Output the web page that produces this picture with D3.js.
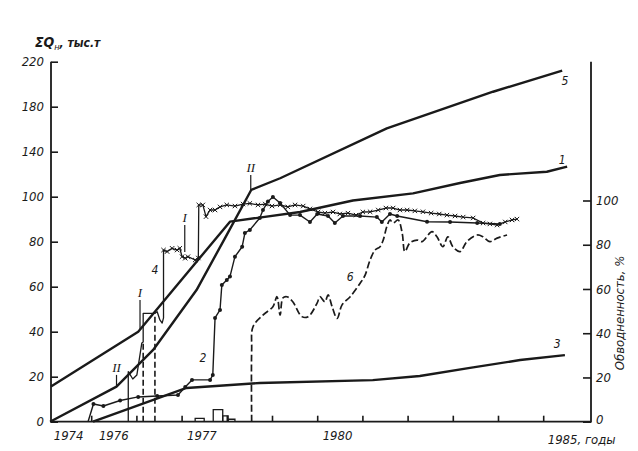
<!DOCTYPE html>
<html><head><meta charset="utf-8">
<script src="https://cdn.jsdelivr.net/npm/d3@7"></script>
<style>
html,body{margin:0;padding:0;background:#fff;}
svg{display:block;}
text{fill:#1a1a1a;}
.tick text{font-family:"Liberation Sans Narrow","DejaVu Sans Condensed","DejaVu Sans",sans-serif;font-style:italic;font-size:13px;}
</style></head>
<body>
<svg id="chart" width="638" height="451"></svg>
<script>
// ---- data (x in interval units of the time axis, one unit per tick interval) ----
const leftTicks = [0,20,40,60,80,100,140,180,220];          // ΣQн, thous. t (axis drawn with uneven labels)
const rightTicks = [0,20,40,60,80,100];                      // water cut, %
const xTicks = [1,2,3,4,5,6,7,8,9,10,11];
const xLabels = ["1974","1976","1977","1980","1985, годы"];
const xLabelPos = [0.5,1.5,3.45,6.45,11.1];

// curves on left axis (ΣQн)
const curve1 = [[0.11,15.6],[2.04,40.0],[4.07,88.9],[5.62,93.2],[6.79,98.3],[8.12,103.0],[9.16,112.2],[10.04,119.3],[11.08,122.2],[11.53,126.7]];
const curve3 = [[1.04,0],[3.11,15.0],[4.73,17.2],[7.23,18.5],[8.27,20.3],[9.38,23.9],[10.49,27.4],[11.48,29.6]];
const curve5 = [[0.09,0],[1.56,15.6],[2.37,31.9],[2.85,45.2],[3.33,58.5],[3.96,81.6],[4.54,106.0],[5.18,116.4],[7.54,160.8],[9.89,193.3],[11.42,212.0]];

// curves on right axis (обводненность, %)
const curve2 = [[0.93,0],[1.05,8.0],[1.27,7.1],[1.64,9.6],[2.04,11.2],[2.46,11.6],[2.92,12.1],[3.08,15.7],[3.23,18.9],[3.63,18.9],[3.69,21.1],[3.74,46.9],[3.85,50.5],[3.89,61.8],[4.00,64.1],[4.07,65.6],[4.18,74.6],[4.34,79.1],[4.40,85.3],[4.51,86.7],[4.73,92.1],[4.80,95.7],[4.91,99.5],[5.02,101.6],[5.18,98.9],[5.40,93.4],[5.62,93.4],[5.84,90.3],[6.00,93.9],[6.24,93.0],[6.39,89.8],[6.57,93.0],[6.95,93.0],[7.32,92.5],[7.43,90.3],[7.61,93.9],[7.77,93.0],[8.43,90.4],[8.94,90.3],[9.54,89.8],[10.04,89.4]];
const curve4 = [[1.82,0],[1.82,22.6],[1.92,19.3],[2.01,21.1],[2.12,35.6],[2.15,36.0],[2.15,49.0],[2.41,49.0],[2.46,49.7],[2.52,46.0],[2.57,44.6],[2.60,46.9],[2.60,77.6],[2.68,76.9],[2.79,78.4],[2.90,77.6],[2.96,78.4],[3.01,74.6],[3.08,73.9],[3.14,74.6],[3.30,73.1],[3.37,74.0],[3.38,98.0],[3.47,98.0],[3.54,92.7],[3.63,95.7],[3.74,95.7],[3.85,97.1],[4.00,98.0],[4.18,97.5],[4.36,98.4],[4.51,98.7],[4.69,98.0],[4.85,98.4],[5.00,97.5],[5.18,98.0],[5.35,97.1],[5.51,98.0],[5.69,97.5],[5.84,96.2],[6.02,94.8],[6.17,94.3],[6.35,94.8],[6.50,93.9],[6.68,94.3],[6.86,93.4],[7.01,94.8],[7.17,94.9],[7.35,95.7],[7.52,96.6],[7.68,96.6],[7.83,95.7],[7.99,95.7],[8.16,95.3],[8.34,94.9],[8.52,94.3],[8.70,93.9],[8.87,93.4],[9.05,93.0],[9.23,92.5],[9.45,92.1],[9.67,89.8],[9.82,89.4],[9.98,88.9],[10.16,90.3],[10.31,91.2],[10.42,91.6]];
const curve6 = [[4.55,0],[4.55,32.4],[4.58,42.9],[4.80,48.2],[5.02,52.0],[5.11,56.5],[5.18,48.2],[5.24,55.9],[5.33,56.5],[5.46,54.2],[5.66,47.5],[5.80,47.5],[6.00,53.7],[6.06,56.5],[6.17,54.2],[6.24,57.3],[6.33,52.0],[6.44,46.7],[6.55,52.8],[6.73,56.5],[6.95,62.6],[7.06,66.3],[7.17,73.1],[7.28,77.6],[7.39,79.1],[7.46,82.1],[7.54,88.2],[7.61,91.2],[7.68,89.8],[7.79,91.2],[7.88,85.3],[7.94,76.9],[8.05,80.8],[8.21,82.1],[8.32,81.4],[8.54,85.9],[8.65,83.6],[8.78,79.1],[8.89,83.6],[9.00,79.1],[9.16,76.9],[9.31,81.4],[9.54,84.4],[9.67,83.6],[9.82,81.4],[9.98,83.0],[10.20,84.4]];
const dropLines = [[2.15,36.0],[2.41,49.0]];                 // dashed verticals (right axis)
const bars = [[3.30,3.50,1.5],[3.70,3.91,5.5],[3.91,4.03,2.6],[4.03,4.18,1.1]]; // [t0,t1,value] right axis

// curve number labels [text, t, value on left axis]
const curveLabels = [["5",11.48,202.0],["1",11.42,132.6],["3",11.31,34.1],["2",3.47,28.3],["6",6.73,64.3],["4",2.41,67.4]];
// stage marks [text, t, v bottom, v top] on left axis
const stageMarks = [["II",1.56,15.6,20.8],["I",2.08,40.8,54.1],["I",3.07,75.4,87.4],["II",4.53,106.0,119.3]];

// ---- drawing ----
const svg = d3.select("#chart");
const X0 = 51, X1 = 591, YB = 421.7, YT = 61.7;
const x = d3.scaleLinear().domain([0,12]).range([46,588.4]);
const yL = d3.scaleLinear().domain([0,100,220]).range([YB,196.7,YT]);
const yR = d3.scaleLinear().domain([0,100]).range([YB,200.5]);
const ink = "#1a1a1a";

// axes
const gL = svg.append("g").attr("transform",`translate(${X0},0)`)
  .call(d3.axisLeft(yL).tickValues(leftTicks).tickSizeInner(-7).tickSizeOuter(0).tickPadding(7).tickFormat(d3.format("d")));
gL.select(".domain").remove();
const gR = svg.append("g").attr("transform",`translate(${X1},0)`)
  .call(d3.axisRight(yR).tickValues(rightTicks).tickSizeInner(-8).tickSizeOuter(0).tickPadding(5).tickFormat(d3.format("d")));
gR.select(".domain").remove();
gR.selectAll(".tick text").filter(d=>d===0).attr("dy","0.1em");
const gB = svg.append("g").attr("transform",`translate(0,${YB})`)
  .call(d3.axisBottom(x).tickValues(xTicks).tickSizeInner(-6).tickSizeOuter(0).tickFormat(""));
gB.select(".domain").remove();
svg.selectAll(".tick line").attr("stroke",ink).attr("stroke-width",1.6);
svg.selectAll(".tick text").attr("fill",ink);

svg.append("path").attr("d",`M${X0},${YT}V${YB}H${X1}V${YT}`).attr("fill","none").attr("stroke",ink).attr("stroke-width",1.8);

svg.append("g").selectAll("text").data(xLabels).join("text")
  .attr("x",(d,i)=>x(xLabelPos[i])).attr("y",(d,i)=>i===xLabels.length-1?YB+22:YB+18)
  .attr("text-anchor",(d,i)=>i===xLabels.length-1?"start":"middle")
  .style("font-family",'"Liberation Sans Narrow","DejaVu Sans Condensed","DejaVu Sans",sans-serif')
  .style("font-style","italic").style("font-size","13px").text(d=>d);

// axis titles
const tt = svg.append("text").attr("x",35).attr("y",46.5)
  .style("font-family",'"DejaVu Sans Condensed","DejaVu Sans",sans-serif').style("font-style","italic").style("font-size","12px");
tt.append("tspan").style("font-weight","bold").style("font-size","14px").text("ΣQ");
tt.append("tspan").attr("dy",3).style("font-size","9px").text("н");
tt.append("tspan").attr("dy",-3).style("font-weight","bold").text(", тыс.т");

svg.append("text").attr("transform","translate(620,313) rotate(-90)")
  .attr("text-anchor","middle").attr("dominant-baseline","middle")
  .style("font-family",'"DejaVu Sans Condensed","DejaVu Sans",sans-serif').style("font-style","italic").style("font-size","13px")
  .text("Обводненность, %");

// bars
svg.append("g").selectAll("path").data(bars).join("path")
  .attr("d",d=>`M${x(d[0])},${yR(0)}V${yR(d[2])}H${x(d[1])}V${yR(0)}`)
  .attr("fill","none").attr("stroke",ink).attr("stroke-width",1.3);

// dashed drop lines
svg.append("g").selectAll("line").data(dropLines).join("line")
  .attr("x1",d=>x(d[0])).attr("x2",d=>x(d[0])).attr("y1",yR(0)).attr("y2",d=>yR(d[1]))
  .attr("stroke",ink).attr("stroke-width",1.6).attr("stroke-dasharray","6,3");

const lineL = d3.line().x(d=>x(d[0])).y(d=>yL(d[1]));
const lineR = d3.line().x(d=>x(d[0])).y(d=>yR(d[1]));

[curve1,curve3,curve5].forEach(c=>{
  svg.append("path").attr("d",lineL(c)).attr("fill","none").attr("stroke",ink).attr("stroke-width",2.4).attr("stroke-linejoin","round");
});

svg.append("path").attr("d",lineR.curve(d3.curveCatmullRom.alpha(0.5))(curve6)).attr("fill","none")
  .attr("stroke",ink).attr("stroke-width",1.7).attr("stroke-dasharray","7,3");
lineR.curve(d3.curveLinear);

svg.append("path").attr("d",lineR(curve2)).attr("fill","none").attr("stroke",ink).attr("stroke-width",1.4).attr("stroke-linejoin","round");
svg.append("g").selectAll("circle").data(curve2.slice(1)).join("circle")
  .attr("cx",d=>x(d[0])).attr("cy",d=>yR(d[1])).attr("r",2).attr("fill",ink);

svg.append("path").attr("d",lineR(curve4)).attr("fill","none").attr("stroke",ink).attr("stroke-width",1.3).attr("stroke-linejoin","round");
svg.append("g").selectAll("path").data(curve4.filter(d=>d[1]>70)).join("path")
  .attr("d",d=>{const cx=x(d[0]),cy=yR(d[1]);return `M${cx-2.2},${cy-2.2}L${cx+2.2},${cy+2.2}M${cx-2.2},${cy+2.2}L${cx+2.2},${cy-2.2}`;})
  .attr("stroke",ink).attr("stroke-width",1);

// stage marks
stageMarks.forEach(m=>{
  svg.append("line").attr("x1",x(m[1])).attr("x2",x(m[1])).attr("y1",yL(m[2])).attr("y2",yL(m[3]))
    .attr("stroke",ink).attr("stroke-width",1.2);
  svg.append("text").attr("x",x(m[1])).attr("y",yL(m[3])-3).attr("text-anchor","middle")
    .style("font-family",'"Liberation Serif","DejaVu Serif",serif').style("font-style","italic").style("font-size","13px").text(m[0]);
});

// curve labels
svg.append("g").selectAll("text").data(curveLabels).join("text")
  .attr("x",d=>x(d[1])).attr("y",d=>yL(d[2])).attr("text-anchor","middle").attr("dominant-baseline","middle")
  .style("font-family",'"DejaVu Sans Condensed","DejaVu Sans",sans-serif').style("font-style","italic").style("font-size","12px")
  .text(d=>d[0]);
</script>
</body></html>
